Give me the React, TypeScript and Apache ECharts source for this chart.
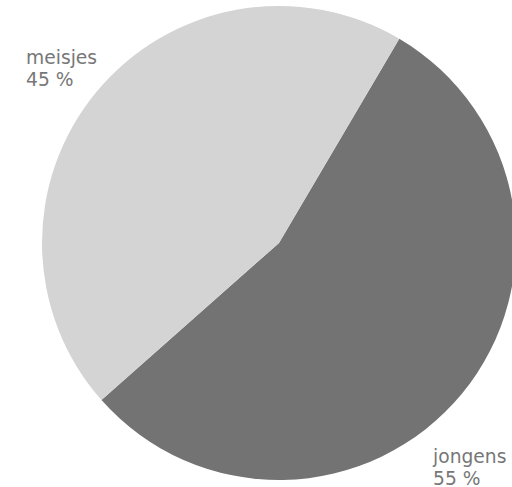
import React, { useEffect, useRef } from "react";
import * as echarts from "echarts";

const categories = ["jongens", "meisjes"];
const values = [55, 45];
const colors = ["#737373", "#d4d4d4"];

export default function App() {
  const ref = useRef<HTMLDivElement>(null);
  useEffect(() => {
    if (!ref.current) return;
    const chart = echarts.init(ref.current, null, { renderer: "svg" });
    const labelPos = [
      { left: 433, top: 445 },
      { left: 26, top: 46 },
    ];
    chart.setOption({
      animation: false,
      backgroundColor: "#ffffff",
      graphic: categories.map((c, i) => ({
        type: "text",
        left: labelPos[i].left,
        top: labelPos[i].top,
        style: {
          text: `${c}\n${values[i]} %`,
          font: "18.7px 'DejaVu Sans'",
          lineHeight: 22,
          fill: "#777777",
        },
      })),
      series: [
        {
          type: "pie",
          center: [279, 243],
          radius: 237,
          startAngle: 59.5,
          clockwise: true,
          data: categories.map((c, i) => ({
            name: c,
            value: values[i],
            itemStyle: { color: colors[i] },
          })),
          label: { show: false },
          labelLine: { show: false },
          emphasis: { disabled: true },
        },
      ],
    });
    return () => chart.dispose();
  }, []);
  return (
    <div
      ref={ref}
      style={{ position: "fixed", left: 0, top: 0, width: 512, height: 487 }}
    />
  );
}
